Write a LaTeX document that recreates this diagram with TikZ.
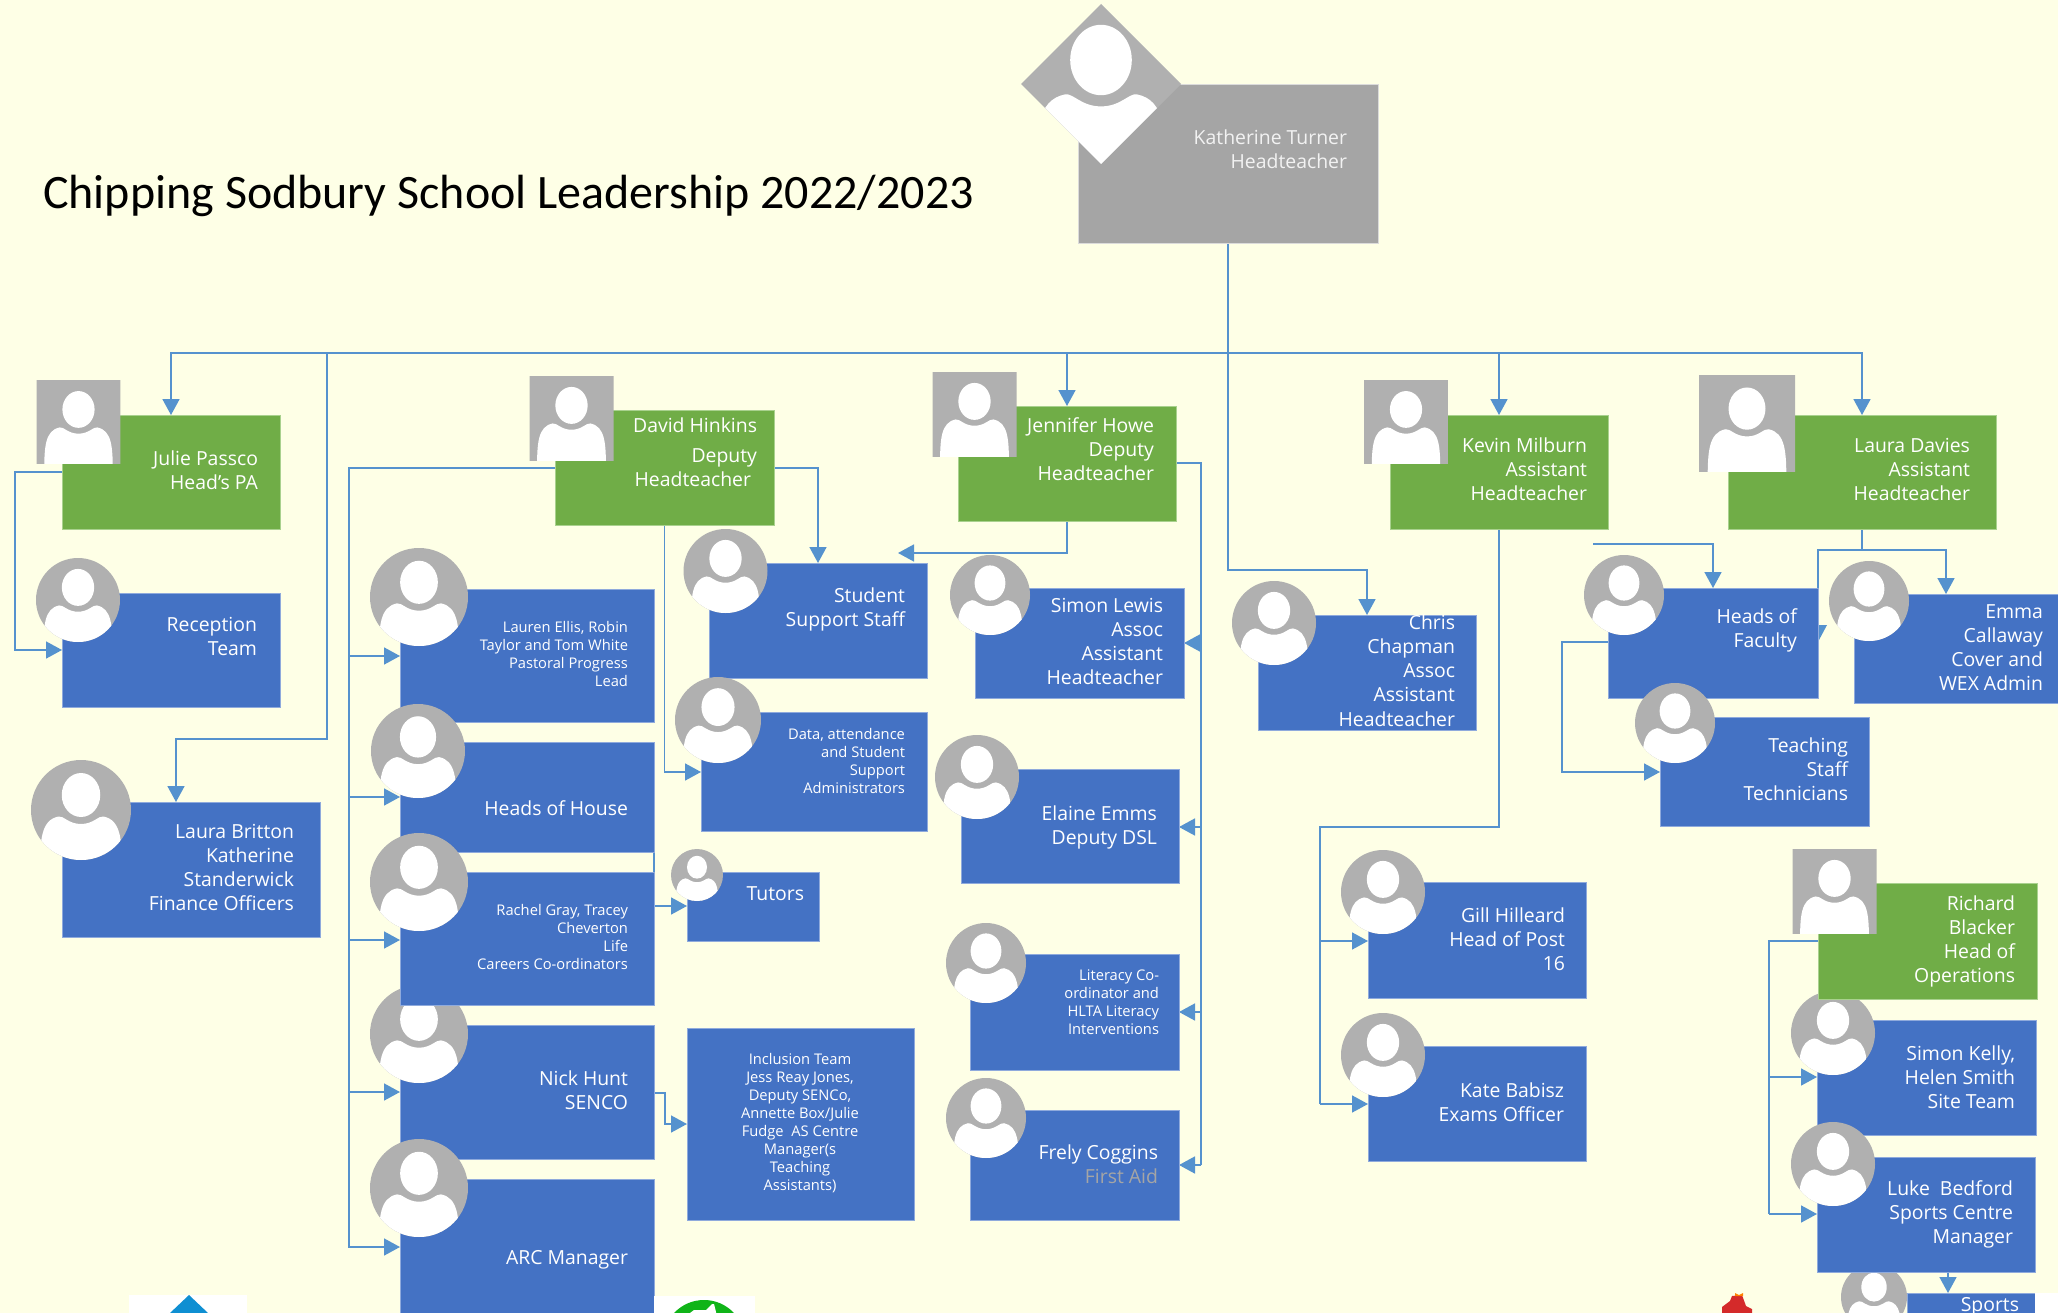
\documentclass[tikz,border=0pt]{standalone}
\usepackage{fontspec}
\setmainfont{Open Sans}
\newfontfamily\titlefont{Carlito}
\usetikzlibrary{arrows.meta}
\pgfdeclarelayer{bg}
\pgfsetlayers{bg,main}
\definecolor{pagebg}{HTML}{FEFFE6}
\definecolor{bluebox}{HTML}{4472C4}
\definecolor{blueedge}{HTML}{8FAADC}
\definecolor{greenbox}{HTML}{70AD47}
\definecolor{greenedge}{HTML}{A9D18E}
\definecolor{greybox}{HTML}{A5A5A5}
\definecolor{greyedge}{HTML}{DBDBDB}
\definecolor{photogrey}{HTML}{B0B0B0}
\definecolor{linkblue}{HTML}{5592CE}
\definecolor{logoblue}{HTML}{0F8FD2}
\definecolor{logogreen}{HTML}{10B418}
\definecolor{logored}{HTML}{D42A2A}
\tikzset{
  x=1pt,y=-1pt,
  bluefill/.style={fill=bluebox,draw=blueedge,line width=.8pt},
  greenfill/.style={fill=greenbox,draw=greenedge,line width=.8pt},
  greyfill/.style={fill=greybox,draw=greyedge,line width=.8pt},
  lbl/.style={text=white,inner sep=0pt,outer sep=0pt,align=right,anchor=north east,
    font=\fontsize{19.4}{24.3}\selectfont},
  lbls/.style={text=white,inner sep=0pt,outer sep=0pt,align=right,anchor=north east,
    font=\fontsize{14.7}{18.1}\selectfont},
  conn/.style={draw=linkblue,line width=1.6pt},
  arr/.style={conn,-{Triangle[width=17pt,length=16pt]}}
}
\newcommand{\boxn}[6]{\node[#6,inner sep=0pt,outer sep=0pt,minimum width={(#4-#2)*1pt},minimum height={(#5-#3)*1pt}] (#1) at ({(#2+#4)/2},{(#3+#5)/2}) {};}
\newcommand{\txt}[4]{\node[lbl] (#1t) at (#2,#3-11) {\strut #4};}
\newcommand{\txts}[4]{\node[lbls] (#1t) at (#2,#3-8) {\strut #4};}
\newcommand{\shapecirc}{(0,0) circle (1)}
\newcommand{\shapesq}{(-1,-1) rectangle (1,1)}
\newcommand{\shapedia}{(0,-1) -- (1,0) -- (0,1) -- (-1,0) -- cycle}
\newcommand{\photo}[4]{\begin{scope}[shift={(#2,#3)},scale=#4]
  \begin{scope}
  \clip #1;
  \fill[photogrey] (-1.1,-1.1) rectangle (1.1,1.1);
  \fill[white] (0,-0.3) ellipse [x radius=.385,y radius=.44];
  \fill[white] (-0.82,1.2) .. controls (-0.82,0.6) and (-0.8,0.2) .. (-0.45,0.13)
    .. controls (-0.35,0.11) and (-0.25,0.28) .. (0,0.28)
    .. controls (0.25,0.28) and (0.35,0.11) .. (0.45,0.13)
    .. controls (0.8,0.2) and (0.82,0.6) .. (0.82,1.2) -- cycle;
  \end{scope}
\end{scope}}
\begin{document}
\begin{tikzpicture}
\path[use as bounding box,clip] (0,0) rectangle (2058,1313);
% boxes and pictures
\boxn{katherine}{1078}{84}{1378}{243}{greyfill}
\photo{\shapedia}{1101}{84}{80}
\node[lbl,text=white!95!black] (katherinet) at (1347,127) {\strut Katherine Turner\\Headteacher};
\node[anchor=west,inner sep=0pt,font=\titlefont\fontsize{48}{50}\selectfont] (title) at (43,196) {Chipping Sodbury School Leadership 2022/2023};

\boxn{julie}{62}{415}{280}{529}{greenfill}
\photo{\shapesq}{78.5}{422}{41.8}
\txt{julie}{258}{459}{Julie Passco\\Head’s PA}

\boxn{reception}{62}{593}{280}{707}{bluefill}
\photo{\shapecirc}{78}{600}{42}
\txt{reception}{257}{625}{Reception\\Team}

\boxn{britton}{62}{802}{320}{937}{bluefill}
\photo{\shapecirc}{81}{810}{50}
\txt{britton}{294}{832}{Laura Britton\\Katherine\\Standerwick\\Finance Officers}

\boxn{david}{555}{410}{774}{525}{greenfill}
\photo{\shapesq}{571.5}{418}{42}
\txt{david}{757}{426}{David Hinkins\\[6pt]Deputy\hspace*{6pt}\\Headteacher\hspace*{6pt}}

\boxn{lauren}{400}{589}{654}{722}{bluefill}
\photo{\shapecirc}{419}{597}{49}
\txts{lauren}{628}{628}{Lauren Ellis, Robin\\Taylor and Tom White\\Pastoral Progress\\Lead}

\boxn{hoh}{400}{742}{654}{852}{bluefill}
\photo{\shapecirc}{418}{751}{47}
\txt{hoh}{628}{809}{Heads of House}

\boxn{nick}{400}{1025}{654}{1159}{bluefill}
\photo{\shapecirc}{419}{1034}{49}
\txt{nick}{628}{1079}{Nick Hunt\\SENCO}

\boxn{rachel}{400}{872}{654}{1005}{bluefill}
\photo{\shapecirc}{419}{882}{49}
\txts{rachel}{628}{911}{Rachel Gray, Tracey\\Cheverton\\Life\\Careers Co-ordinators}

\boxn{arc}{400}{1179}{654}{1320}{bluefill}
\photo{\shapecirc}{419}{1188}{49}
\txt{arc}{628}{1258}{ARC Manager}

\boxn{student}{709}{563}{927}{678}{bluefill}
\photo{\shapecirc}{725.5}{571}{42}
\txt{student}{905}{596}{Student\\Support Staff}

\boxn{data}{701}{712}{927}{831}{bluefill}
\photo{\shapecirc}{718}{720}{43}
\txts{data}{905}{735}{Data, attendance\\and Student\\Support\\Administrators}

\boxn{tutors}{687}{872}{819}{941}{bluefill}
\photo{\shapecirc}{697}{875}{26}
\txt{tutors}{804}{894}{Tutors}

\boxn{inclusion}{687}{1028}{914}{1220}{bluefill}
\node[lbls,align=center,anchor=north] (inclusiont) at (800,1051.5) {\strut Inclusion Team\\Jess Reay Jones,\\Deputy SENCo,\\Annette Box/Julie\\Fudge~ AS Centre\\Manager(s\\Teaching\\Assistants)};

\boxn{jennifer}{958}{406}{1176}{521}{greenfill}
\photo{\shapesq}{974.5}{414}{42}
\txt{jennifer}{1154}{426}{Jennifer Howe\\Deputy\\Headteacher}

\boxn{simon}{975}{588}{1184}{698}{bluefill}
\photo{\shapecirc}{990}{595}{40}
\txt{simon}{1163}{606}{Simon Lewis\\Assoc\\Assistant\\Headteacher}

\boxn{elaine}{961}{769}{1179}{883}{bluefill}
\photo{\shapecirc}{977}{777}{42}
\txt{elaine}{1157}{814}{Elaine Emms\\Deputy DSL}

\boxn{literacy}{970}{954}{1179}{1070}{bluefill}
\photo{\shapecirc}{986}{963}{40}
\txts{literacy}{1159}{976}{Literacy Co-\\ordinator and\\HLTA Literacy\\Interventions}

\boxn{frely}{970}{1110}{1179}{1220}{bluefill}
\photo{\shapecirc}{986}{1118}{40}
\txt{frely}{1158}{1153}{Frely Coggins\\\textcolor{greybox}{First Aid}}

\boxn{chris}{1258}{615}{1476}{730}{bluefill}
\photo{\shapecirc}{1274}{623}{42}
\txt{chris}{1455}{623}{Chris\\Chapman\\Assoc\\Assistant\\Headteacher}

\boxn{kevin}{1390}{415}{1608}{529}{greenfill}
\photo{\shapesq}{1406}{422}{41.8}
\txt{kevin}{1587}{446}{Kevin Milburn\\Assistant\\Headteacher}

\boxn{gill}{1368}{882}{1586}{998}{bluefill}
\photo{\shapecirc}{1383}{892}{42}
\txt{gill}{1565}{916}{Gill Hilleard\\Head of Post\\16}

\boxn{kate}{1368}{1046}{1586}{1161}{bluefill}
\photo{\shapecirc}{1383}{1055}{42}
\txt{kate}{1564}{1091}{Kate Babisz\\Exams Officer}

\boxn{laurad}{1728}{415}{1996}{529}{greenfill}
\photo{\shapesq}{1747}{423}{48}
\txt{laurad}{1970}{446}{Laura Davies\\Assistant\\Headteacher}

\boxn{faculty}{1608}{588}{1818}{698}{bluefill}
\photo{\shapecirc}{1624}{595}{40}
\txt{faculty}{1797}{617}{Heads of\\Faculty}

\boxn{teaching}{1660}{717}{1869}{826}{bluefill}
\photo{\shapecirc}{1675}{723}{40}
\txt{teaching}{1848}{746}{Teaching\\Staff\\Technicians}

\boxn{emma}{1854}{594}{2060}{703}{bluefill}
\photo{\shapecirc}{1869}{601}{40}
\txt{emma}{2043}{612}{Emma\\Callaway\\Cover and\\WEX Admin}

\boxn{skelly}{1817}{1020}{2036}{1135}{bluefill}
\photo{\shapecirc}{1833}{1033}{42}
\txt{skelly}{2015}{1054}{Simon Kelly,\\Helen Smith\\Site Team}

\boxn{richard}{1818}{883}{2037}{999}{greenfill}
\photo{\shapesq}{1834.5}{891}{42}
\txt{richard}{2015}{904}{Richard\\Blacker\\Head of\\Operations}

\boxn{sports}{1907}{1293}{2035}{1320}{bluefill}
\photo{\shapecirc}{1874}{1297}{33}
\txt{sports}{2019}{1305}{Sports}
\fill[white] (2035,1293) rectangle (2058,1313);

\boxn{luke}{1817}{1157}{2035}{1272}{bluefill}
\photo{\shapecirc}{1833}{1164}{42}
\txt{luke}{2013}{1189}{Luke~ Bedford\\Sports Centre\\Manager}

% logos cut off by the lower edge
\fill[white] (129,1295) rectangle (247,1313);
\fill[logoblue] (189,1295) -- (208,1313) -- (170,1313) -- cycle;
\fill[white] (654,1296) rectangle (755,1313);
\fill[logogreen] (704,1341) circle (41);
\fill[white] (690,1313) -- (694,1310) -- (706,1310) -- (712,1304) -- (714,1304) -- (716,1312) -- (716,1313) -- cycle;
\fill[logored] (1722,1313) -- (1722,1307) -- (1730,1301) -- (1732,1296) -- (1742,1295) -- (1746,1306) -- (1752,1309) -- (1752,1313) -- cycle;
\fill[orange] (1735,1296) -- (1735,1293) -- (1739,1295) -- (1743,1293) -- (1743,1296) -- cycle;

% connectors, below the boxes
\begin{pgfonlayer}{bg}
\fill[pagebg] (0,0) rectangle (2058,1313);
\coordinate (bus) at (1228,353);
\coordinate (busb) at (327,353);
\coordinate (fs) at (1593,544);
\coordinate (jstud) at (898,553);
\coordinate (dleft) at (349,468);
\coordinate (jright) at (1201,463);
\coordinate (kbend) at (1320,827);
\coordinate (rleft) at (1769,941);
\coordinate (lbar) at (1862,550);
\coordinate (ebar) at (1946,550);
\coordinate (fbar) at (1818,550);

\draw[conn] (katherine.south) -- (bus);
\draw[arr] (bus) -| (julie.north);
\draw[arr] (bus) -| (jennifer.north);
\draw[arr] (bus) -| (kevin.north);
\draw[arr] (bus) -| (laurad.north);
\draw[arr] (bus) |- (1367,570) -- (chris.north);
\draw[arr] (busb) |- (176,739) -- (176,0 |- britton.north);

\draw[arr] (julie.west |- 0,472) -| (15,650) -- (reception.west |- 0,650);

\draw[arr] (david.west |- 0,468) -- (dleft) -- (349,1247) -- (arc.west |- 0,1247);
\draw[arr] (349,656) -- (lauren.west |- 0,656);
\draw[arr] (349,797) -- (hoh.west |- 0,797);
\draw[arr] (349,940) -- (rachel.west |- 0,940);
\draw[arr] (349,1092) -- (nick.west |- 0,1092);
\draw[arr] (david.east |- 0,468) -| (student.north);
\draw[arr] (david.south) |- (data.west |- 0,772);

\draw[arr] (hoh.south east) |- (tutors.west |- 0,906);
\draw[arr] (nick.east |- 0,1093) -| (665,1124) -- (inclusion.west |- 0,1124);

\draw[arr] (jennifer.south) |- (jstud);
\draw[conn] (jennifer.east |- 0,463) -- (jright) -- (1201,1165);
\draw[arr] (1201,643) -- (simon.east |- 0,643);
\draw[arr] (1201,827) -- (elaine.east |- 0,827);
\draw[arr] (1201,1012) -- (literacy.east |- 0,1012);
\draw[arr] (1201,1165) -- (frely.east |- 0,1165);

\draw[conn] (kevin.south) |- (kbend) -- (1320,1104);
\draw[arr] (1320,941) -- (gill.west |- 0,941);
\draw[arr] (1320,1104) -- (kate.west |- 0,1104);

\draw[conn] (laurad.south) -- (lbar);
\draw[arr] (lbar) -- (ebar) -- (1946,0 |- emma.north);
\draw[conn] (lbar) -- (fbar) -- (1818,633);
\fill[linkblue] (1818,625) -- (1827,625) -- (1819,640) -- cycle;
\draw[arr] (fs) -| (faculty.north);
\draw[arr] (faculty.west |- 0,642) -| (1562,772) -- (teaching.west |- 0,772);

\draw[conn] (richard.west |- 0,941) -- (rleft) -- (1769,1214);
\draw[arr] (1769,1077) -- (skelly.west |- 0,1077);
\draw[arr] (1769,1214) -- (luke.west |- 0,1214);
\draw[arr] (1948,0 |- luke.south) -- (1948,0 |- sports.north);
\end{pgfonlayer}
\end{tikzpicture}
\end{document}
